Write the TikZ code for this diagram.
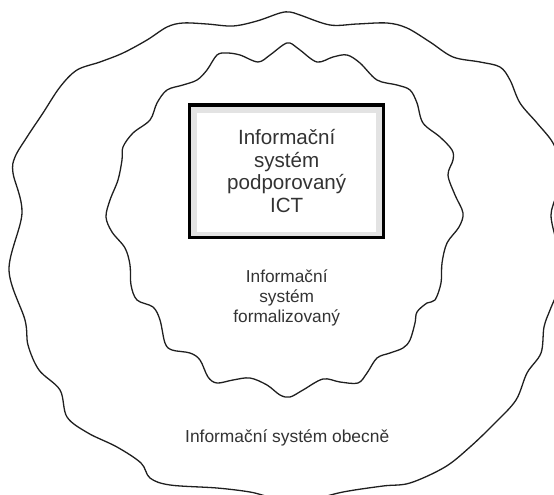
\documentclass[tikz,border=0pt]{standalone}
\usepackage{fontspec}
\setmainfont{Liberation Sans}
\begin{document}
\begin{tikzpicture}[x=1pt,y=-1pt,
  wavy/.style={draw=black!88, line width=1.3pt, line join=round},
  lbl/.style={text=black!80, align=center, inner sep=0pt},
  frame/.style={draw=black, line width=3.5pt, fill=black!11, minimum width=193.8pt, minimum height=132.2pt, inner sep=0pt},
  pane/.style={fill=white, minimum width=178.7pt, minimum height=118.7pt, inner sep=0pt},
]
\useasboundingbox (0,0) rectangle (554,495);
\clip (0,0) rectangle (554,495);
% outer cloud
\draw[wavy] plot[smooth cycle, tension=0.55] coordinates {
(290,12) (300,15) (330,25) (357,24) (387,23) (407,28) (430,42) (453,57) (480,62) (500,67) (510,80) (520,103) (537,123) (553,143) (560,165) (556,195) (551,215) (556,240) (563,265) (558,290) (550,310) (544,327) (541,353) (527,373) (516,400) (495,423) (470,447) (445,467) (410,483) (383,486) (343,492) (300,502) (270,497) (250,492) (217,488) (170,485) (150,478) (141,463) (117,447) (88,433) (67,417) (60,390) (39,370) (28,345) (25,320) (9,270) (22,213) (13,173) (15,157) (27,137) (43,113) (60,87) (77,70) (100,62) (123,53) (147,40) (167,27) (183,23) (207,24) (233,26) (257,21) (280,13)};
% inner cloud
\draw[wavy] plot[smooth cycle, tension=0.55] coordinates {
(290,43) (300,50) (317,62) (333,57) (347,55) (360,63) (377,80) (397,85) (410,90) (417,103) (423,123) (440,137) (452,150) (453,160) (448,175) (455,195) (463,213) (459,227) (447,243) (442,263) (441,283) (435,300) (427,303) (417,312) (415,323) (410,340) (403,348) (390,353) (377,358) (367,373) (358,383) (340,382) (323,379) (303,390) (290,397) (280,395) (267,385) (250,378) (233,380) (217,383) (208,377) (200,360) (190,353) (172,350) (165,343) (160,320) (153,307) (137,300) (131,285) (130,265) (125,248) (112,232) (106,217) (110,200) (118,180) (122,160) (123,147) (133,133) (150,120) (157,103) (167,90) (183,85) (197,80) (207,70) (217,55) (227,53) (240,55) (258,62) (270,55) (283,45)};
% ICT box
\node[frame] (ictframe) at (286.35,171.15) {};
\node[pane] (ictpane) at (286.35,172.35) {};
\node[lbl, font=\fontsize{20.6}{22.5}\selectfont] (ict) at (286.7,171.2) {Informační\\systém\\podporovaný\\ICT};
\node[lbl, font=\fontsize{17.3}{20}\selectfont] (formal) at (286.7,297.5) {Informační\\systém\\formalizovaný};
\node[lbl, font=\fontsize{17.4}{20}\selectfont] (general) at (287.2,438.3) {Informační systém obecně};
\end{tikzpicture}
\end{document}
